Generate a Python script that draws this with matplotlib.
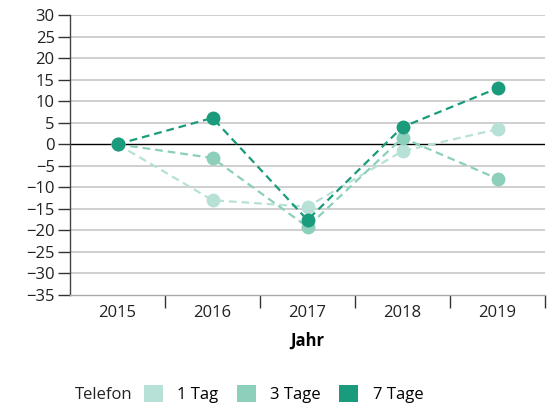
import matplotlib
matplotlib.use("Agg")
import matplotlib.pyplot as plt
from matplotlib.patches import Patch

years = ["2015", "2016", "2017", "2018", "2019"]
series_names = ["1 Tag", "3 Tage", "7 Tage"]
tag1 = [0, -13, -14.5, -1.6, 3.5]
tage3 = [0, -3.2, -19.2, 1.5, -8]
tage7 = [0, 6.1, -17.6, 4, 13]
colors = ["#b7e1d6", "#8ccfba", "#1a9b7b"]
yticks = list(range(-35, 31, 5))

plt.rcParams['font.family'] = ['Open Sans', 'DejaVu Sans']
FS = 12

fig = plt.figure(figsize=(5.49, 4.04), dpi=100)
ax = fig.add_axes([70/549, 109/404, 475/549, 280/404])

x = list(range(len(years)))
for vals, c in zip([tag1, tage3, tage7], colors):
    ax.plot(x, vals, linestyle=(0, (3.5, 2.2)), color=c, lw=1.6,
            marker='o', markersize=10, markeredgewidth=0, zorder=3)

ax.set_xlim(-0.5, 4.5)
ax.set_ylim(-35, 30)
ax.set_yticks(yticks)
ax.set_yticklabels([str(v).replace('-', '\u2212') for v in yticks], fontsize=FS)
for v in yticks:
    if v == 0:
        ax.axhline(v, color='black', lw=1.0, zorder=2)
    elif v != -35:
        ax.axhline(v, color='#cccccc', lw=1.3, zorder=1)

ax.set_xticks(x)
ax.set_xticklabels(years, fontsize=FS)
ax.set_xticks([0.5, 1.5, 2.5, 3.5, 4.5], minor=True)
ax.tick_params(axis='x', which='major', length=0, pad=7, colors='#222222')
ax.tick_params(axis='x', which='minor', length=9, width=1, color='#333333')
ax.tick_params(axis='y', length=9, width=1, color='#333333', labelcolor='#222222', pad=2)

for s in ['top', 'right']:
    ax.spines[s].set_visible(False)
ax.spines['left'].set_color('#444444')
ax.spines['left'].set_linewidth(1.0)
ax.spines['bottom'].set_color('#aaaaaa')
ax.spines['bottom'].set_linewidth(1.0)

ax.set_xlabel("Jahr", fontsize=FS, fontweight='bold', labelpad=8)

fig.text(75/549, 1 - 395/404, "Telefon", fontsize=FS, va='center', ha='left', color='#222222')
handles = [Patch(facecolor=c, edgecolor='none') for c in colors]
fig.legend(handles, series_names, loc='center left', bbox_to_anchor=(129/549, 1 - 394/404),
           ncol=3, frameon=False, fontsize=FS, handlelength=1.15, handleheight=1.15,
           handletextpad=0.85, columnspacing=1.1)

fig.savefig("out.png", dpi=100)
